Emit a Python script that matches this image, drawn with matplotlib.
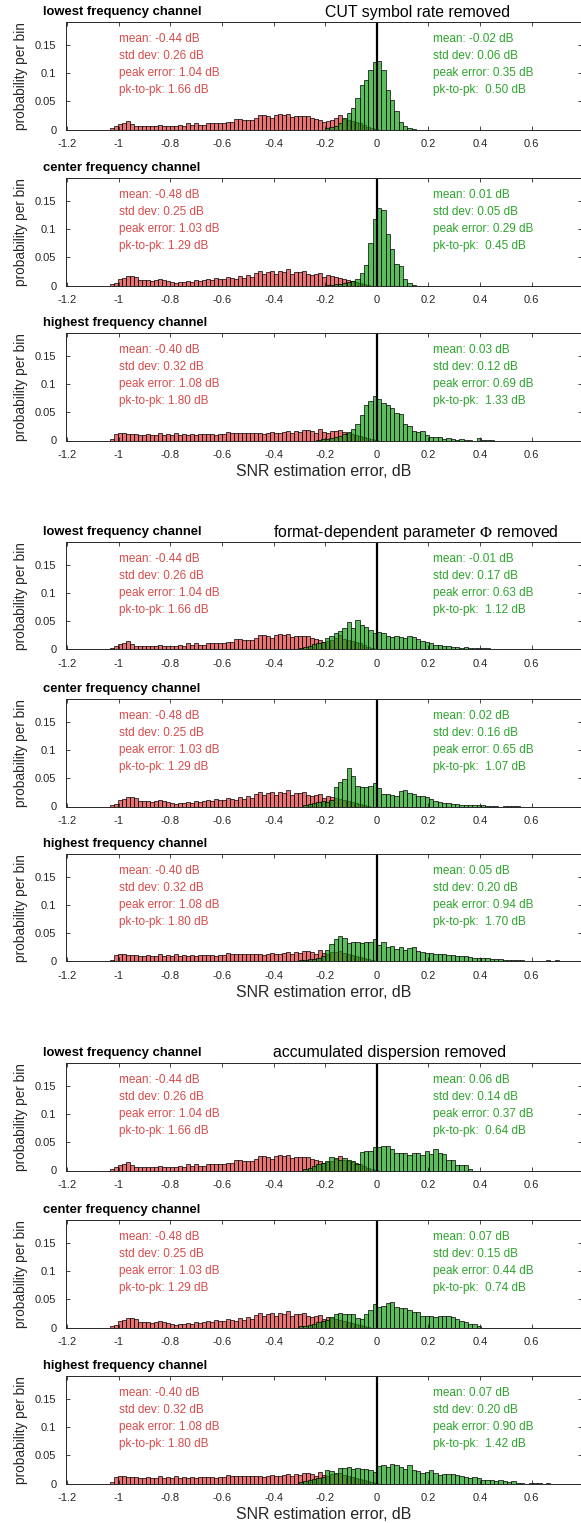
import numpy as np
import matplotlib.pyplot as plt

plt.rcParams['font.family'] = ['Liberation Sans', 'DejaVu Sans']
plt.rcParams['mathtext.fontset'] = 'stix'

# ---- data ---------------------------------------------------------------
# all histograms are probability per bin; bin edges = first_edge + k * width
red_first_edge = -1.033
red_width = 0.0155
green_width = 0.0168

# raw estimator (red) - the same in each of the three groups
red_lowest = [0.002, 0.006, 0.009, 0.011, 0.015, 0.009, 0.0065, 0.006, 0.007, 0.006,
              0.007, 0.006, 0.008, 0.007, 0.007, 0.0065, 0.007, 0.008, 0.007, 0.011,
              0.008, 0.011, 0.008, 0.008, 0.011, 0.011, 0.011, 0.011, 0.012, 0.014,
              0.014, 0.018, 0.018, 0.016, 0.016, 0.016, 0.021, 0.026, 0.025, 0.023,
              0.021, 0.026, 0.027, 0.026, 0.028, 0.022, 0.024, 0.024, 0.024, 0.024,
              0.021, 0.019, 0.016, 0.014, 0.015, 0.017, 0.020, 0.025, 0.018, 0.016,
              0.015, 0.013, 0.011, 0.008, 0.005, 0.003, 0.001]
red_center = [0.002, 0.005, 0.011, 0.014, 0.016, 0.017, 0.015, 0.009, 0.009, 0.010,
              0.008, 0.009, 0.011, 0.009, 0.008, 0.006, 0.005, 0.007, 0.006, 0.008,
              0.007, 0.009, 0.008, 0.010, 0.011, 0.010, 0.014, 0.011, 0.012, 0.015,
              0.013, 0.012, 0.016, 0.013, 0.019, 0.015, 0.022, 0.026, 0.020, 0.024,
              0.025, 0.021, 0.026, 0.024, 0.029, 0.020, 0.023, 0.024, 0.025, 0.020,
              0.019, 0.020, 0.022, 0.015, 0.019, 0.016, 0.015, 0.013, 0.012, 0.010,
              0.008, 0.006, 0.004, 0.002, 0.001]
red_highest = [0.003, 0.012, 0.013, 0.013, 0.012, 0.011, 0.012, 0.010, 0.010, 0.011,
               0.009, 0.010, 0.013, 0.010, 0.011, 0.009, 0.013, 0.010, 0.011, 0.010,
               0.011, 0.010, 0.012, 0.011, 0.011, 0.012, 0.010, 0.012, 0.011, 0.015,
               0.013, 0.013, 0.014, 0.013, 0.013, 0.014, 0.013, 0.014, 0.012, 0.014,
               0.015, 0.013, 0.014, 0.015, 0.016, 0.014, 0.017, 0.015, 0.018, 0.019,
               0.017, 0.014, 0.021, 0.015, 0.014, 0.016, 0.017, 0.018, 0.015, 0.014,
               0.012, 0.010, 0.008, 0.006, 0.004, 0.002, 0.001]

# corrected estimators (green); *_bins_left = number of bins left of 0
green_symrate_lowest = [0.002, 0.004, 0.007, 0.012, 0.020, 0.030, 0.038, 0.055, 0.078, 0.087,
                        0.106, 0.119, 0.121, 0.105, 0.069, 0.052, 0.033, 0.014, 0.006, 0.0035,
                        0.001]
green_symrate_lowest_bins_left = 12
green_symrate_center = [0.001, 0.001, 0.002, 0.003, 0.005, 0.006, 0.008, 0.012, 0.022, 0.036,
                        0.075, 0.118, 0.137, 0.133, 0.091, 0.065, 0.038, 0.035, 0.012, 0.005,
                        0.001]
green_symrate_center_bins_left = 12
green_symrate_highest = [0.001, 0.002, 0.003, 0.004, 0.006, 0.008, 0.011, 0.015, 0.020, 0.029,
                         0.045, 0.062, 0.069, 0.078, 0.074, 0.066, 0.063, 0.057, 0.049, 0.047,
                         0.029, 0.025, 0.016, 0.015, 0.016, 0.009, 0.007, 0.006, 0.006, 0.003,
                         0.004, 0.002, 0.001, 0.003, 0.001, 0.001, 0.0, 0.004, 0.001, 0.001,
                         0.001]
green_symrate_highest_bins_left = 14

green_phi_lowest = [0.003, 0.005, 0.007, 0.010, 0.012, 0.013, 0.020, 0.024, 0.029, 0.033,
                    0.038, 0.048, 0.038, 0.052, 0.044, 0.040, 0.035, 0.029, 0.031, 0.029,
                    0.024, 0.022, 0.024, 0.022, 0.021, 0.024, 0.022, 0.019, 0.015, 0.013,
                    0.011, 0.008, 0.008, 0.006, 0.006, 0.005, 0.004, 0.003, 0.004, 0.003,
                    0.003, 0.003, 0.002, 0.002, 0.001, 0.001, 0.0, 0.001, 0.001]
green_phi_lowest_bins_left = 18
green_phi_center = [0.002, 0.004, 0.006, 0.008, 0.010, 0.008, 0.012, 0.034, 0.043, 0.049,
                    0.068, 0.054, 0.037, 0.034, 0.035, 0.037, 0.041, 0.033, 0.022, 0.022,
                    0.021, 0.019, 0.028, 0.029, 0.024, 0.022, 0.018, 0.018, 0.016, 0.0135,
                    0.009, 0.008, 0.006, 0.006, 0.005, 0.005, 0.0035, 0.0035, 0.002, 0.002,
                    0.002, 0.002, 0.001, 0.001, 0.001, 0.0, 0.001, 0.001, 0.001, 0.001]
green_phi_center_bins_left = 17
green_phi_highest = [0.002, 0.003, 0.004, 0.005, 0.007, 0.009, 0.020, 0.031, 0.039, 0.045,
                     0.041, 0.033, 0.035, 0.034, 0.033, 0.034, 0.035, 0.040, 0.029, 0.035,
                     0.025, 0.028, 0.022, 0.025, 0.021, 0.024, 0.025, 0.019, 0.016, 0.015,
                     0.015, 0.0135, 0.013, 0.013, 0.012, 0.011, 0.010, 0.009, 0.009, 0.008,
                     0.006, 0.007, 0.006, 0.006, 0.005, 0.005, 0.004, 0.0035, 0.003, 0.003,
                     0.002, 0.002, 0.001, 0.001, 0.0, 0.0, 0.0, 0.002, 0.0, 0.002]
green_phi_highest_bins_left = 18

green_disp_lowest = [0.002, 0.004, 0.008, 0.011, 0.013, 0.016, 0.0235, 0.022, 0.019, 0.022,
                     0.018, 0.016, 0.012, 0.032, 0.034, 0.034, 0.041, 0.041, 0.043, 0.044,
                     0.038, 0.031, 0.031, 0.031, 0.028, 0.031, 0.031, 0.028, 0.034, 0.029,
                     0.038, 0.031, 0.029, 0.019, 0.018, 0.010, 0.010, 0.009, 0.003]
green_disp_lowest_bins_left = 17
green_disp_center = [0.002, 0.003, 0.005, 0.007, 0.009, 0.012, 0.014, 0.018, 0.023, 0.025,
                     0.024, 0.023, 0.024, 0.017, 0.015, 0.024, 0.031, 0.042, 0.037, 0.038,
                     0.043, 0.045, 0.037, 0.035, 0.035, 0.031, 0.027, 0.027, 0.021, 0.021,
                     0.021, 0.019, 0.021, 0.021, 0.021, 0.019, 0.015, 0.012, 0.009, 0.0065,
                     0.0065, 0.003]
green_disp_center_bins_left = 18
green_disp_highest = [0.002, 0.004, 0.006, 0.008, 0.010, 0.012, 0.024, 0.022, 0.018, 0.028,
                      0.028, 0.029, 0.026, 0.028, 0.025, 0.026, 0.024, 0.021, 0.031, 0.032,
                      0.029, 0.034, 0.032, 0.029, 0.026, 0.032, 0.024, 0.022, 0.019, 0.021,
                      0.024, 0.018, 0.015, 0.016, 0.016, 0.016, 0.015, 0.013, 0.012, 0.009,
                      0.011, 0.009, 0.007, 0.006, 0.006, 0.005, 0.006, 0.005, 0.003, 0.004,
                      0.001, 0.001, 0.0, 0.001, 0.001, 0.001, 0.0, 0.001]
green_disp_highest_bins_left = 18

channel_names = ['lowest frequency channel', 'center frequency channel', 'highest frequency channel']
group_titles = ['CUT symbol rate removed', r'format-dependent parameter $\Phi$ removed',
                'accumulated dispersion removed']

red_stats = [['mean: -0.44 dB', 'std dev: 0.26 dB', 'peak error: 1.04 dB', 'pk-to-pk: 1.66 dB'],
             ['mean: -0.48 dB', 'std dev: 0.25 dB', 'peak error: 1.03 dB', 'pk-to-pk: 1.29 dB'],
             ['mean: -0.40 dB', 'std dev: 0.32 dB', 'peak error: 1.08 dB', 'pk-to-pk: 1.80 dB']]
green_stats = [
    [['mean: -0.02 dB', 'std dev: 0.06 dB', 'peak error: 0.35 dB', 'pk-to-pk:  0.50 dB'],
     ['mean: 0.01 dB', 'std dev: 0.05 dB', 'peak error: 0.29 dB', 'pk-to-pk:  0.45 dB'],
     ['mean: 0.03 dB', 'std dev: 0.12 dB', 'peak error: 0.69 dB', 'pk-to-pk:  1.33 dB']],
    [['mean: -0.01 dB', 'std dev: 0.17 dB', 'peak error: 0.63 dB', 'pk-to-pk:  1.12 dB'],
     ['mean: 0.02 dB', 'std dev: 0.16 dB', 'peak error: 0.65 dB', 'pk-to-pk:  1.07 dB'],
     ['mean: 0.05 dB', 'std dev: 0.20 dB', 'peak error: 0.94 dB', 'pk-to-pk:  1.70 dB']],
    [['mean: 0.06 dB', 'std dev: 0.14 dB', 'peak error: 0.37 dB', 'pk-to-pk:  0.64 dB'],
     ['mean: 0.07 dB', 'std dev: 0.15 dB', 'peak error: 0.44 dB', 'pk-to-pk:  0.74 dB'],
     ['mean: 0.07 dB', 'std dev: 0.20 dB', 'peak error: 0.90 dB', 'pk-to-pk:  1.42 dB']]]

red_sets = [red_lowest, red_center, red_highest]
green_sets = [[(green_symrate_lowest, green_symrate_lowest_bins_left),
               (green_symrate_center, green_symrate_center_bins_left),
               (green_symrate_highest, green_symrate_highest_bins_left)],
              [(green_phi_lowest, green_phi_lowest_bins_left),
               (green_phi_center, green_phi_center_bins_left),
               (green_phi_highest, green_phi_highest_bins_left)],
              [(green_disp_lowest, green_disp_lowest_bins_left),
               (green_disp_center, green_disp_center_bins_left),
               (green_disp_highest, green_disp_highest_bins_left)]]

# ---- styling / layout ----------------------------------------------------
W, H = 581, 1523
red_face = (0.85, 0.12, 0.12, 0.62)
green_face = (0.05, 0.62, 0.05, 0.68)
red_text = '#d94a4a'
green_text = '#2ca52c'
axis_col = '#262626'

ax_left, ax_right = 66, 582
ax_h = 107.5
ax_tops = [22, 178, 333, 542, 699, 854, 1063, 1220, 1376]
group_title_x = [325, 273, 273]

fig = plt.figure(figsize=(W / 100, H / 100), dpi=100)

for g in range(3):
    for c in range(3):
        top = ax_tops[3 * g + c]
        ax = fig.add_axes([ax_left / W, 1 - (top + ax_h) / H,
                           (ax_right - ax_left) / W, ax_h / H])

        red = np.array(red_sets[c])
        red_edges = red_first_edge + red_width * np.arange(len(red) + 1)
        ax.bar(red_edges[:-1], red, width=red_width, align='edge',
               facecolor=red_face, edgecolor='black', linewidth=0.5)

        gvals, gleft = green_sets[g][c]
        gvals = np.array(gvals)
        g_edges = green_width * (np.arange(len(gvals) + 1) - gleft)
        ax.bar(g_edges[:-1], gvals, width=green_width, align='edge',
               facecolor=green_face, edgecolor='black', linewidth=0.5)

        ax.axvline(0, color='black', linewidth=1.6)

        ax.set_xlim(-1.205, 0.795)
        ax.set_ylim(0, 0.19)
        ax.set_xticks([-1.2, -1, -0.8, -0.6, -0.4, -0.2, 0, 0.2, 0.4, 0.6])
        ax.set_xticklabels(['-1.2', '-1', '-0.8', '-0.6', '-0.4', '-0.2', '0', '0.2', '0.4', '0.6'])
        ax.set_yticks([0, 0.05, 0.1, 0.15])
        ax.set_yticklabels(['0', '0.05', '0.1', '0.15'])
        ax.tick_params(direction='in', top=True, right=True, length=3, width=0.6,
                       colors=axis_col, labelsize=8)
        ax.tick_params(axis='x', pad=7)
        ax.tick_params(axis='y', pad=7)
        for s in ax.spines.values():
            s.set_color(axis_col)
            s.set_linewidth(0.7)

        ax.set_ylabel('probability per bin', fontsize=9.8, color=axis_col)
        ax.yaxis.set_label_coords((28 - ax_left) / (ax_right - ax_left), 0.5)

        for i, (rt, gt) in enumerate(zip(red_stats[c], green_stats[g][c])):
            yv = 0.16 - 0.03 * i
            ax.text(-1.0, yv, rt, color=red_text, fontsize=8.5, va='center', ha='left')
            ax.text(0.218, yv, gt, color=green_text, fontsize=8.5, va='center', ha='left')

        fig.text(43 / W, 1 - (top - 10) / H, channel_names[c], fontsize=9.4,
                 fontweight='bold', ha='left', va='center')

        if c == 0:
            fig.text(group_title_x[g] / W, 1 - (top - 10) / H, group_titles[g],
                     fontsize=11.4, ha='left', va='center', color='black')
        if c == 2:
            ax.text(0.5, -31 / ax_h, 'SNR estimation error, dB', transform=ax.transAxes,
                    fontsize=11.4, ha='center', va='center', color=axis_col)

fig.savefig('out.png', dpi=100, facecolor='white')
